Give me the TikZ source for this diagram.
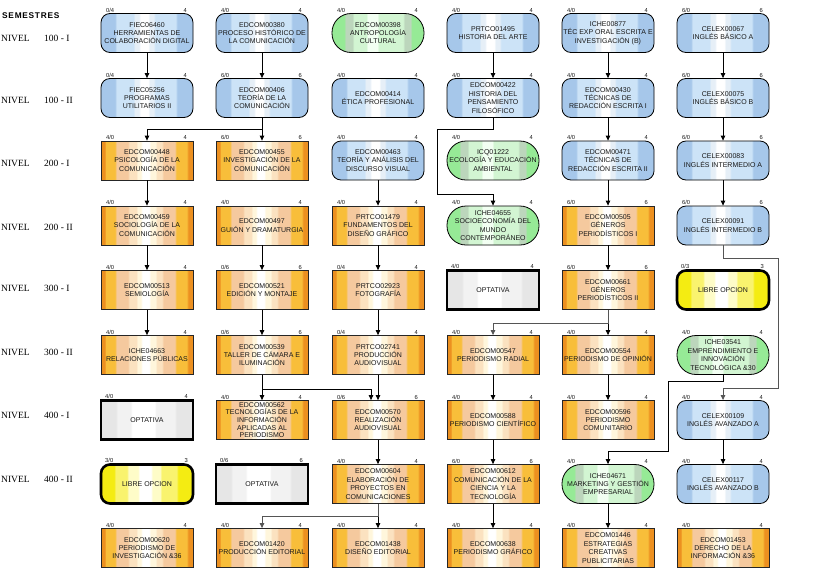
\documentclass[tikz,border=0pt]{standalone}
\usepackage{fontspec}
\setmainfont{Liberation Serif}
\newfontfamily\cfont{Liberation Sans}
\newfontfamily\semfont[LetterSpace=9]{Liberation Sans}
\usetikzlibrary{arrows.meta}

\definecolor{bA}{HTML}{A6C7EA}
\definecolor{bB}{HTML}{CCE3F7}
\definecolor{bC}{HTML}{E6EFF7}
\definecolor{oD}{HTML}{EC9020}
\definecolor{oY}{HTML}{F8BE3A}
\definecolor{oP}{HTML}{F5C99E}
\definecolor{oL}{HTML}{FBE2C0}
\definecolor{oW}{HTML}{FFF6DC}
\definecolor{gB}{HTML}{96EA96}
\definecolor{gG}{HTML}{BCD6BC}
\definecolor{gL}{HTML}{D2F5D2}
\definecolor{gW}{HTML}{F2FFF2}
\definecolor{yA}{HTML}{E6E6E6}
\definecolor{yB}{HTML}{F2F2F2}
\definecolor{lA}{HTML}{F4EC12}
\definecolor{lB}{HTML}{F9F36E}
\definecolor{lC}{HTML}{FEFCC8}
\definecolor{lineG}{HTML}{555555}

\pgfdeclarehorizontalshading{blueS}{100bp}{color(0bp)=(bA); color(25bp)=(bA); color(32.5bp)=(bA); color(33.5bp)=(bB); color(42.5bp)=(bB); color(43.5bp)=(bC); color(45.5bp)=(bC); color(46.5bp)=(white); color(50.5bp)=(white); color(51.5bp)=(bC); color(53.5bp)=(bC); color(54.5bp)=(bB); color(65.5bp)=(bB); color(66.5bp)=(bA); color(75bp)=(bA); color(100bp)=(bA)}
\pgfdeclarehorizontalshading{orangeS}{100bp}{color(0bp)=(oD); color(25bp)=(oD); color(27bp)=(oD); color(27.6bp)=(oY); color(32.5bp)=(oY); color(33.5bp)=(oP); color(39.5bp)=(oP); color(40.5bp)=(oL); color(44bp)=(oL); color(45bp)=(oW); color(46.5bp)=(oW); color(47.5bp)=(white); color(51bp)=(white); color(52bp)=(oW); color(54.5bp)=(oW); color(55.5bp)=(oL); color(58bp)=(oL); color(59bp)=(oP); color(65bp)=(oP); color(66bp)=(oY); color(71.5bp)=(oY); color(72.5bp)=(oD); color(75bp)=(oD); color(100bp)=(oD)}
\pgfdeclarehorizontalshading{greenS}{100bp}{color(0bp)=(gB); color(25bp)=(gB); color(31.5bp)=(gB); color(32.5bp)=(gG); color(36bp)=(gG); color(37bp)=(gL); color(43.5bp)=(gL); color(44.5bp)=(gW); color(49.5bp)=(gW); color(50.5bp)=(gL); color(63.5bp)=(gL); color(64.5bp)=(gG); color(67.5bp)=(gG); color(68.5bp)=(gB); color(75bp)=(gB); color(100bp)=(gB)}
\pgfdeclarehorizontalshading{grayS}{100bp}{color(0bp)=(yA); color(25bp)=(yA); color(33bp)=(yA); color(34bp)=(yB); color(41bp)=(yB); color(42bp)=(white); color(54bp)=(white); color(55bp)=(yB); color(65bp)=(yB); color(66bp)=(yA); color(75bp)=(yA); color(100bp)=(yA)}
\pgfdeclarehorizontalshading{yellowS}{100bp}{color(0bp)=(lA); color(25bp)=(lA); color(32bp)=(lA); color(33bp)=(lB); color(39bp)=(lB); color(40bp)=(lC); color(45bp)=(lC); color(46bp)=(white); color(52bp)=(white); color(53bp)=(lC); color(57bp)=(lC); color(58bp)=(lB); color(66bp)=(lB); color(67bp)=(lA); color(75bp)=(lA); color(100bp)=(lA)}

\tikzset{
  box/.style={minimum width=92pt, minimum height=39pt, inner sep=0pt, align=center,
    font=\cfont\fontsize{7}{8.4}\selectfont, text=black!90},
  bluebox/.style={box, draw=black, line width=0.8pt, rounded corners=9pt, shade, shading=blueS},
  orangebox/.style={box, draw=black!85, line width=0.8pt, shade, shading=orangeS},
  greenbox/.style={box, draw=black, line width=0.8pt, rounded corners=19pt, shade, shading=greenS},
  graybox/.style={box, draw=black, line width=2.6pt, shade, shading=grayS},
  yellowbox/.style={box, draw=black, line width=2.6pt, rounded corners=9pt, shade, shading=yellowS},
  tight/.style={font=\cfont\fontsize{7}{7.6}\selectfont},
  cr/.style={inner sep=0.3pt, font=\cfont\fontsize{5.8}{6.5}\selectfont, text=black!90},
  rowlab/.style={anchor=west, inner sep=0pt, font=\fontsize{9.5}{11}\selectfont},
  conn/.style={draw=black, line width=0.8pt, -{Triangle[length=5pt,width=4.5pt]}},
  gconn/.style={conn, draw=lineG, line width=1pt}
}

\newcommand\course[7]{%
  \node[#4] (#1) at (#2,#3) {#7};
  \node[cr, anchor=south west] (#1l) at ([xshift=5pt,yshift=0.3pt]#1.north west) {#5};
  \node[cr, anchor=south east] (#1r) at ([xshift=-6pt,yshift=0.3pt]#1.north east) {#6};
}

\begin{document}
\begin{tikzpicture}[x=1pt,y=-1pt]
\useasboundingbox (0,0) rectangle (813,587);
\fill[white] (0,0) rectangle (813,587);

\node[anchor=west, inner sep=0pt, font=\semfont\bfseries\fontsize{8.3}{10}\selectfont] (sem) at (2,16) {SEMESTRES};
\foreach \yy/\lv [count=\i] in {38/100 - I, 100/100 - II, 163/200 - I, 227/200 - II, 288/300 - I, 352/300 - II, 415/400 - I, 479/400 - II}{
  \node[rowlab] (nv\i) at (1,\yy) {NIVEL};
  \node[rowlab] (lv\i) at (44,\yy) {\lv};
}

% Row 1
\course{n11}{147}{33}{bluebox}{0/4}{4}{FIEC06460\\HERRAMIENTAS DE\\COLABORACIÓN DIGITAL}
\course{n12}{262}{33}{bluebox}{4/0}{4}{EDCOM00380\\PROCESO HISTÓRICO DE\\LA COMUNICACIÓN}
\course{n13}{378}{33}{greenbox}{4/0}{4}{EDCOM00398\\ANTROPOLOGÍA\\CULTURAL}
\course{n14}{493}{33}{bluebox}{4/0}{4}{PRTCO01495\\HISTORIA DEL ARTE}
\course{n15}{608}{33}{bluebox}{4/0}{4}{ICHE00877\\TÉC EXP ORAL ESCRITA E\\INVESTIGACIÓN (B)}
\course{n16}{723}{33}{bluebox}{6/0}{6}{CELEX00067\\INGLÉS BÁSICO A}
% Row 2
\course{n21}{147}{98}{bluebox}{0/4}{4}{FIEC05256\\PROGRAMAS\\UTILITARIOS II}
\course{n22}{262}{98}{bluebox}{6/0}{6}{EDCOM00406\\TEORÍA DE LA\\COMUNICACIÓN}
\course{n23}{378}{98}{bluebox}{4/0}{4}{EDCOM00414\\ÉTICA PROFESIONAL}
\course{n24}{493}{98}{bluebox}{4/0}{4}{EDCOM00422\\HISTORIA DEL\\PENSAMIENTO\\FILOSÓFICO}
\course{n25}{608}{98}{bluebox}{4/0}{4}{EDCOM00430\\TÉCNICAS DE\\REDACCIÓN ESCRITA I}
\course{n26}{723}{98}{bluebox}{6/0}{6}{CELEX00075\\INGLÉS BÁSICO B}
% Row 3
\course{n31}{147}{160.5}{orangebox}{4/0}{4}{EDCOM00448\\PSICOLOGÍA DE LA\\COMUNICACIÓN}
\course{n32}{262}{160.5}{orangebox}{6/0}{6}{EDCOM00455\\INVESTIGACIÓN DE LA\\COMUNICACIÓN}
\course{n33}{378}{160.5}{bluebox}{4/0}{4}{EDCOM00463\\TEORÍA Y ANÁLISIS DEL\\DISCURSO VISUAL}
\course{n34}{493}{160.5}{greenbox}{4/0}{4}{ICQ01222\\ECOLOGÍA Y EDUCACIÓN\\AMBIENTAL}
\course{n35}{608}{160.5}{bluebox}{4/0}{4}{EDCOM00471\\TÉCNICAS DE\\REDACCIÓN ESCRITA II}
\course{n36}{723}{160.5}{bluebox}{6/0}{6}{CELEX00083\\INGLÉS INTERMEDIO A}
% Row 4
\course{n41}{147}{225.5}{orangebox}{4/0}{4}{EDCOM00459\\SOCIOLOGÍA DE LA\\COMUNICACIÓN}
\course{n42}{262}{225.5}{orangebox}{4/0}{4}{EDCOM00497\\GUIÓN Y DRAMATURGIA}
\course{n43}{378}{225.5}{orangebox}{4/0}{4}{PRTCO01479\\FUNDAMENTOS DEL\\DISEÑO GRÁFICO}
\course{n44}{493}{225.5}{greenbox}{4/0}{4}{ICHE04655\\SOCIOECONOMÍA DEL\\MUNDO\\CONTEMPORÁNEO}
\course{n45}{608}{225.5}{orangebox}{6/0}{6}{EDCOM00505\\GÉNEROS\\PERIODÍSTICOS I}
\course{n46}{723}{225.5}{bluebox}{6/0}{6}{CELEX00091\\INGLÉS INTERMEDIO B}
% Row 5
\course{n51}{147}{290}{orangebox}{4/0}{4}{EDCOM00513\\SEMIOLOGÍA}
\course{n52}{262}{290}{orangebox}{0/6}{6}{EDCOM00521\\EDICIÓN Y MONTAJE}
\course{n53}{378}{290}{orangebox}{0/4}{4}{PRTCO02923\\FOTOGRAFÍA}
\course{n54}{493}{290}{graybox}{4/0}{4}{OPTATIVA}
\course{n55}{608}{290}{orangebox}{6/0}{6}{EDCOM00661\\GÉNEROS\\PERIODÍSTICOS II}
\course{n56}{723}{290}{yellowbox}{0/3}{3}{LIBRE OPCION}
% Row 6
\course{n61}{147}{355}{orangebox}{4/0}{4}{ICHE04663\\RELACIONES PÚBLICAS}
\course{n62}{262}{355}{orangebox}{0/6}{6}{EDCOM00539\\TALLER DE CÁMARA E\\ILUMINACIÓN}
\course{n63}{378}{355}{orangebox}{0/4}{4}{PRTCO02741\\PRODUCCIÓN\\AUDIOVISUAL}
\course{n64}{493}{355}{orangebox}{4/0}{4}{EDCOM00547\\PERIODISMO RADIAL}
\course{n65}{608}{355}{orangebox}{4/0}{4}{EDCOM00554\\PERIODISMO DE OPINIÓN}
\course{n66}{723}{355}{greenbox}{4/0}{4}{ICHE03541\\EMPRENDIMIENTO E\\INNOVACIÓN\\TECNOLÓGICA \&30}
% Row 7
\course{n71}{147}{420}{graybox}{4/0}{4}{OPTATIVA}
\course{n72}{262}{420}{orangebox,tight}{4/0}{4}{EDCOM00562\\TECNOLOGÍAS DE LA\\INFORMACIÓN\\APLICADAS AL\\PERIODISMO}
\course{n73}{378}{420}{orangebox}{0/6}{6}{EDCOM00570\\REALIZACIÓN\\AUDIOVISUAL}
\course{n74}{493}{420}{orangebox}{4/0}{4}{EDCOM00588\\PERIODISMO CIENTÍFICO}
\course{n75}{608}{420}{orangebox}{4/0}{4}{EDCOM00596\\PERIODISMO\\COMUNITARIO}
\course{n76}{723}{420}{bluebox}{4/0}{4}{CELEX00109\\INGLÉS AVANZADO A}
% Row 8
\course{n81}{147}{484}{yellowbox}{3/0}{3}{LIBRE OPCION}
\course{n82}{262}{484}{graybox}{0/6}{6}{OPTATIVA}
\course{n83}{378}{484}{orangebox}{4/0}{4}{EDCOM00604\\ELABORACIÓN DE\\PROYECTOS EN\\COMUNICACIONES}
\course{n84}{493}{484}{orangebox}{6/0}{6}{EDCOM00612\\COMUNICACIÓN DE LA\\CIENCIA Y LA\\TECNOLOGÍA}
\course{n85}{608}{484}{greenbox}{4/0}{4}{ICHE04671\\MARKETING Y GESTIÓN\\EMPRESARIAL}
\course{n86}{723}{484}{bluebox}{4/0}{4}{CELEX00117\\INGLÉS AVANZADO B}
% Row 9
\course{n91}{147}{548}{orangebox}{4/0}{4}{EDCOM00620\\PERIODISMO DE\\INVESTIGACIÓN \&36}
\course{n92}{262}{548}{orangebox}{4/0}{4}{EDCOM01420\\PRODUCCIÓN EDITORIAL}
\course{n93}{378}{548}{orangebox}{4/0}{4}{EDCOM01438\\DISEÑO EDITORIAL}
\course{n94}{493}{548}{orangebox}{4/0}{4}{EDCOM00638\\PERIODISMO GRÁFICO}
\course{n95}{608}{548}{orangebox}{4/0}{4}{EDCOM01446\\ESTRATEGIAS\\CREATIVAS\\PUBLICITARIAS}
\course{n96}{723}{548}{orangebox}{4/0}{4}{EDCOM01453\\DERECHO DE LA\\INFORMACIÓN \&36}

% Straight connectors
\foreach \a/\b in {n11/n21, n12/n22, n14/n24, n15/n25, n16/n26,
                   n22/n32, n25/n35, n26/n36,
                   n31/n41, n33/n43, n35/n45, n36/n46,
                   n41/n51, n42/n52, n43/n53, n45/n55,
                   n51/n61, n52/n62, n53/n63, n55/n65,
                   n62/n72, n63/n73, n64/n74, n65/n75,
                   n73/n83, n74/n84, n76/n86,
                   n83/n93, n84/n94, n85/n95}
  \draw[conn] (\a.south) -- (\b.north);

% Elbow connectors
\draw[conn] (n22.south) -- ++(0,11) -| (n31.north);
\draw[conn] (n24.south) -- ++(0,11) -- ++(-56,0) -- ++(0,65) -| (n44.north);
\draw[gconn] (n46.south) -- ++(0,13) -- ++(55,0) -- ++(0,130) -| (n76.north);
\draw[gconn] (n55.south) -- ++(0,14) -| (n64.north);
\draw[conn] (n62.south) -- ++(0,14) -| ([xshift=-7pt]n73.north);
\draw[conn] (n66.south) -- ++(0,6) -- ++(-55,0) -- ++(0,70) -| (n85.north);
\draw[gconn] (n83.south) -- ++(0,13) -| (n92.north);
\end{tikzpicture}
\end{document}
